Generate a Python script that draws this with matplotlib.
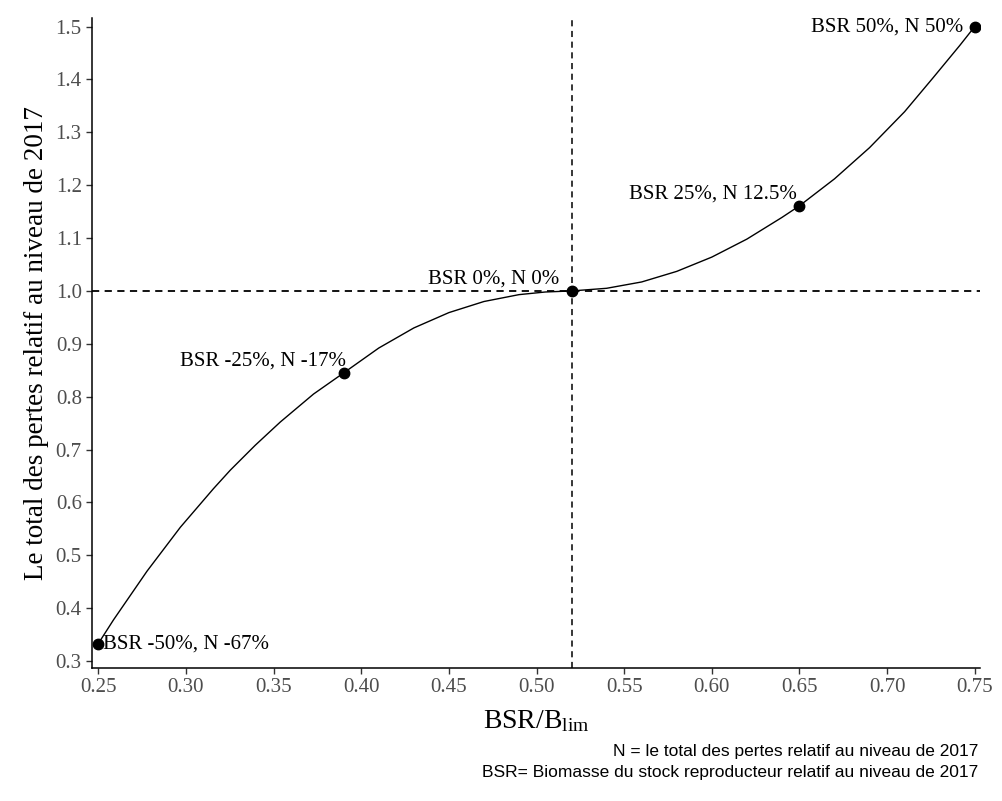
import matplotlib
matplotlib.use("Agg")
import matplotlib.pyplot as plt
import numpy as np


# scenario points
bsr_ratio = [0.25, 0.39, 0.52, 0.65, 0.75]
loss_rel = [0.333, 0.845, 1.0, 1.16, 1.5]
point_labels = ["BSR -50%, N -67%", "BSR -25%, N -17%", "BSR 0%, N 0%",
                "BSR 25%, N 12.5%", "BSR 50%, N 50%"]

# curve
curve_x = [0.25, 0.2587, 0.2778, 0.2968, 0.3157, 0.3253, 0.3395, 0.3538,
           0.3728, 0.39, 0.41, 0.43, 0.45, 0.47, 0.49, 0.505, 0.52,
           0.54, 0.56, 0.58, 0.60, 0.62, 0.64, 0.65, 0.67, 0.69, 0.71,
           0.7262, 0.7414, 0.75]
curve_y = [0.333, 0.378, 0.470, 0.553, 0.626, 0.661, 0.708, 0.752,
           0.805, 0.845, 0.892, 0.930, 0.959, 0.980, 0.993, 0.998, 1.0,
           1.005, 1.017, 1.037, 1.064, 1.098, 1.139, 1.161, 1.212, 1.271,
           1.339, 1.403, 1.464, 1.5]

ref_x = 0.52
ref_y = 1.0

x_ticks = [0.25, 0.30, 0.35, 0.40, 0.45, 0.50, 0.55, 0.60, 0.65, 0.70, 0.75]
y_ticks = [0.3, 0.4, 0.5, 0.6, 0.7, 0.8, 0.9, 1.0, 1.1, 1.2, 1.3, 1.4, 1.5]

plt.rcParams["font.family"] = ["Liberation Serif", "DejaVu Serif"]
plt.rcParams["mathtext.fontset"] = "custom"
plt.rcParams["mathtext.rm"] = "Liberation Serif"
plt.rcParams["mathtext.it"] = "Liberation Serif:italic"

fig = plt.figure(figsize=(10.02, 8.01), dpi=100)
ax = fig.add_axes([0.092, 0.166, 0.886, 0.812])

ax.plot(curve_x, curve_y, color="black", lw=1.0, solid_joinstyle="round")
ax.axhline(ref_y, color="black", lw=1.3, ls=(0, (4, 3)))
ax.axvline(ref_x, color="black", lw=1.1, ls=(0, (4, 3)))
ax.plot(bsr_ratio, loss_rel, "o", color="black", markersize=7.5)

# label placement (offset in points, alignment)
offsets = [((3.5, 0), "left", "center"),
           ((2, 2), "right", "bottom"),
           ((-9, 2), "right", "bottom"),
           ((-2, 2), "right", "bottom"),
           ((-8, 0), "right", "center")]
for x, y, lab, (off, ha, va) in zip(bsr_ratio, loss_rel, point_labels, offsets):
    ax.annotate(lab, (x, y), xytext=off, textcoords="offset points",
                ha=ha, va=va, fontsize=15)

ax.set_xlim(0.2465, 0.753)
ax.set_ylim(0.2867, 1.517)
ax.set_xticks(x_ticks)
ax.set_yticks(y_ticks)
ax.set_xticklabels([f"{v:.2f}" for v in x_ticks])
ax.set_yticklabels([f"{v:.1f}" for v in y_ticks])
ax.tick_params(labelsize=15, labelcolor="#4D4D4D", color="#333333",
               length=4, width=1)

for s in ["top", "right"]:
    ax.spines[s].set_visible(False)
for s in ["left", "bottom"]:
    ax.spines[s].set_linewidth(1.1)

ax.set_xlabel(r"$\mathrm{BSR/B_{lim}}$", fontsize=20, labelpad=8)
ax.set_ylabel("Le total des pertes relatif au niveau de 2017", fontsize=19.5,
              labelpad=5)

fig.text(0.976, 0.062, "N = le total des pertes relatif au niveau de 2017",
         ha="right", va="center", fontsize=12.5, family="Liberation Sans")
fig.text(0.976, 0.035,
         "BSR= Biomasse du stock reproducteur relatif au niveau de 2017",
         ha="right", va="center", fontsize=12.5, family="Liberation Sans")

fig.savefig("out.png", dpi=100)
